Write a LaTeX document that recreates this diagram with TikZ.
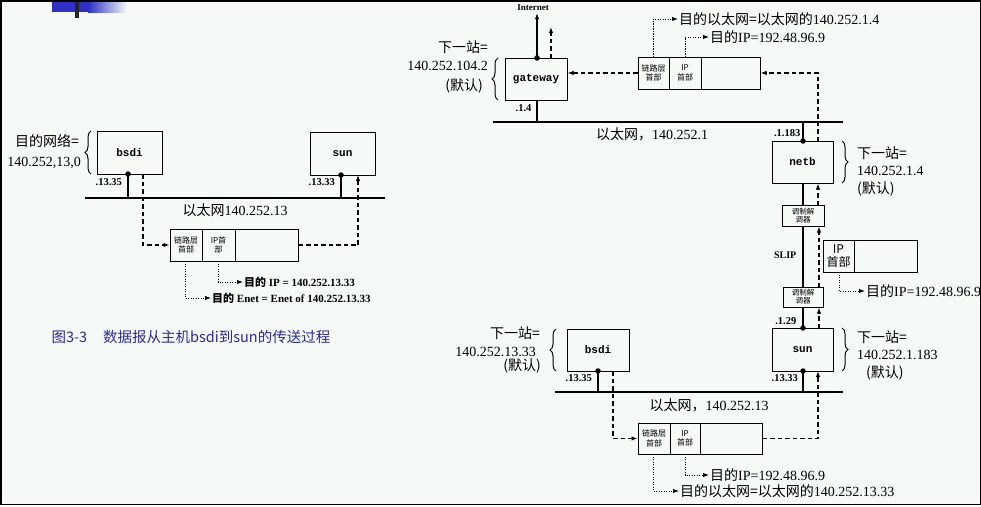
\documentclass[tikz,border=0pt]{standalone}
\usepackage{fontspec}
\setmainfont{Liberation Serif}
\setmonofont{Liberation Mono}
\newfontfamily\cjk{Noto Sans CJK SC}
\usetikzlibrary{arrows.meta,decorations.pathreplacing}
\definecolor{bg}{HTML}{F5FAF7}
\definecolor{capblue}{HTML}{2A2AA0}
\definecolor{barblue}{HTML}{3030C8}
\newcommand{\zh}[1]{{\cjk #1}}
\newcommand{\fsz}[2]{\fontsize{#1}{#2}\selectfont}
\begin{document}
\begin{tikzpicture}[x=1pt,y=-1pt,
  host/.style={draw, line width=1pt, inner sep=0pt, font=\fsz{11}{13}\ttfamily\bfseries},
  cell/.style={draw, line width=1pt, inner sep=0pt, align=center, font=\cjk\fsz{8}{9.5}},
  modem/.style={draw, line width=1pt, inner sep=0pt, align=center, font=\cjk\fsz{7.5}{8}},
  lbl/.style={font=\fsz{14}{16}, inner sep=1pt},
  addr/.style={font=\fsz{10.5}{12}\bfseries, inner sep=0.5pt},
  dsh/.style={line width=1.2pt, dash pattern=on 4.5pt off 3pt},
  dtt/.style={line width=1pt, dash pattern=on 1.2pt off 1.3pt},
  arrowhd/.style={-{Latex[length=6pt,width=4.5pt]}},
  enet/.style={line width=2.8pt},
  wire/.style={line width=1.1pt},
  dotn/.style={circle, fill, inner sep=0pt, minimum size=5.5pt},
  brc/.style={decorate, decoration={brace, amplitude=6pt}, line width=1pt}
]
\useasboundingbox (0,0) rectangle (981,506);
\fill[bg] (0,0) rectangle (981,506);
% top-left slide bar
\fill[barblue] (52,0) rectangle (88,12);
\shade[left color=barblue, right color=bg] (88,0) rectangle (127,12);
\fill[black!85] (75,0) rectangle (79,18);
\draw[line width=1.5pt] (0.75,0.75) rectangle (980.25,504.5);

% ================= LEFT DIAGRAM =================
\node[host, minimum width=65pt, minimum height=43pt] (bsdiL) at (129.5,152.5) {bsdi};
\node[host, minimum width=65pt, minimum height=43pt] (sunL) at (342.5,153.5) {sun};
\coordinate (eL1) at (85,198); \coordinate (eL2) at (385,198);
\draw[enet] (eL1) -- (eL2);
\node[dotn] (dbL) at (128,174) {};
\draw[wire] (dbL.center) -- (dbL |- eL1);
\node[dotn] (dsL) at (341,175) {};
\draw[wire] (dsL.center) -- (dsL |- eL1);
\node[addr, anchor=west] (aL1) at (95,182) {.13.35};
\node[addr, anchor=west] (aL2) at (308,182) {.13.33};
\node[lbl] (netL) at (235,210) {\zh{以太网}140.252.13};
\draw[brc] (91,174) -- (91,131);
\node[lbl, anchor=east] (gL1) at (80,141) {\zh{目的网络=}};
\node[lbl, anchor=east] (gL2) at (82,163) {140.252,13,0};

\node[cell, minimum width=32pt, minimum height=32pt] (pL1) at (186,245) {链路层\\首部};
\node[cell, minimum width=33pt, minimum height=32pt] (pL2) at (218.5,245) {IP首\\部};
\node[cell, minimum width=63pt, minimum height=32pt] (pL3) at (266.5,245) {};
\coordinate (bLd) at (143,174);
\draw[dsh, arrowhd] (bLd) |- (pL1.west);
\coordinate (sLd) at (358,175);
\draw[dsh, arrowhd] (pL3.east) -| (sLd);

\node[anchor=west, font=\fsz{11}{13}\bfseries, inner sep=1pt] (tLip) at (243,282) {\zh{目的} IP = 140.252.13.33};
\node[anchor=west, font=\fsz{11}{13}\bfseries, inner sep=1pt] (tLen) at (211,298) {\zh{目的} Enet = Enet of 140.252.13.33};
\coordinate (pL2b) at (218,261); \draw[dtt, arrowhd] (pL2b) |- (tLip.west);
\coordinate (pL1b) at (185,261); \draw[dtt, arrowhd] (pL1b) |- (tLen.west);

\node[anchor=west, text=capblue, font=\cjk\fsz{14.5}{16}] (cap) at (48,337) {图3-3\hspace{1.1em}数据报从主机bsdi到sun的传送过程};

% ================= RIGHT DIAGRAM =================
\node[host, minimum width=62pt, minimum height=42pt] (gw) at (536,79) {gateway};
\node[dotn] (dgw) at (537,58) {};
\node[font=\fsz{9}{10}\bfseries, inner sep=0pt] (inetT) at (533,8) {Internet};
\draw[wire, arrowhd, shorten >=2pt] (dgw.center) -- (dgw |- inetT.south);
\coordinate (gwd) at (551,58); \coordinate (gwd2) at (551,27);
\draw[dsh, arrowhd] (gwd) -- (gwd2);
\coordinate (eT1) at (493,122); \coordinate (eT2) at (843,122);
\draw[enet] (eT1) -- (eT2);
\coordinate (gwb) at (537,100);
\draw[wire] (gwb) -- (gwb |- eT1);
\node[addr, anchor=west] (a14) at (515,108) {.1.4};
\node[lbl] (netT) at (652,134) {\zh{以太网，}140.252.1};
\node[addr, anchor=east] (a1183) at (801,133) {.1.183};
\draw[brc] (498,100) -- (498,58);
\node[lbl, anchor=east] (gw1) at (489,47) {\zh{下一站=}};
\node[lbl, anchor=east] (gw2) at (489,66) {140.252.104.2};
\node[lbl, anchor=east] (gw3) at (484,86) {\zh{(默认)}};

\node[cell, minimum width=31pt, minimum height=32pt] (pT1) at (653.5,73) {链路层\\首部};
\node[cell, minimum width=32pt, minimum height=32pt] (pT2) at (685,73) {IP\\首部};
\node[cell, minimum width=59pt, minimum height=32pt] (pT3) at (730.5,73) {};
\draw[dsh, arrowhd] (pT1.west) -- (pT1.west -| gw.east);
\node[lbl, anchor=west] (tT1) at (678,19) {\zh{目的以太网=以太网的}140.252.1.4};
\node[lbl, anchor=west] (tT2) at (709,37) {\zh{目的}IP=192.48.96.9};
\coordinate (pT1t) at (653,57); \draw[dtt, arrowhd] (pT1t) |- (tT1.west);
\coordinate (pT2t) at (685,57); \draw[dtt, arrowhd] (pT2t) |- (tT2.west);

\node[host, minimum width=61pt, minimum height=42pt] (netb) at (802.5,162) {netb};
\node[dotn] (dnb) at (803,141) {};
\draw[wire] (dnb.center) -- (dnb |- eT1);
\coordinate (nbd) at (818,141);
\draw[dsh, arrowhd] (nbd) |- (pT3.east);
\draw[brc] (842,141) -- (842,183);
\node[lbl, anchor=west] (nb1) at (856,153) {\zh{下一站=}};
\node[lbl, anchor=west] (nb2) at (856,171) {140.252.1.4};
\node[lbl, anchor=west] (nb3) at (856,189) {\zh{(默认)}};

\node[modem, minimum width=42pt, minimum height=21pt] (m1) at (803,215.5) {调制解\\调器};
\node[modem, minimum width=40pt, minimum height=20pt] (m2) at (803,297) {调制解\\调器};
\draw[wire] (m1.north) -- (m1.north |- netb.south);
\draw[wire] (m1.south) -- (m2.north);
\coordinate (m1t) at (818,205); \draw[dsh, arrowhd] (m1t) -- (m1t |- netb.south);
\coordinate (m2t) at (819,287); \draw[dsh, arrowhd] (m2t) -- (m2t |- m1.south);
\node[font=\fsz{10}{12}\bfseries, anchor=east, inner sep=0.5pt] (slip) at (797,255) {SLIP};

\node[cell, font=\cjk\fsz{12}{12.5}, minimum width=31pt, minimum height=32pt] (pM1) at (838.5,256) {IP\\首部};
\node[cell, minimum width=63pt, minimum height=32pt] (pM2) at (885.5,256) {};
\node[lbl, anchor=west] (tM) at (865,291) {\zh{目的}IP=192.48.96.9};
\coordinate (pM1b) at (839,272); \draw[dtt, arrowhd] (pM1b) |- (tM.west);

\node[host, minimum width=61pt, minimum height=43pt] (sunR) at (802.5,349.5) {sun};
\node[dotn] (dsT) at (803,328) {};
\draw[wire] (dsT.center) -- (dsT |- m2.south);
\coordinate (sRt) at (819,328); \draw[dsh, arrowhd] (sRt) -- (sRt |- m2.south);
\node[addr, anchor=east] (a129) at (797,321) {.1.29};
\draw[brc] (842,328) -- (842,371);
\node[lbl, anchor=west] (sr1) at (856,337) {\zh{下一站=}};
\node[lbl, anchor=west] (sr2) at (856,355) {140.252.1.183};
\node[lbl, anchor=west] (sr3) at (865,373) {\zh{(默认)}};

\coordinate (eB1) at (555,392); \coordinate (eB2) at (843,392);
\draw[enet] (eB1) -- (eB2);
\node[dotn] (dsB) at (803,371) {};
\draw[wire] (dsB.center) -- (dsB |- eB1);
\node[addr, anchor=west] (aR33) at (771,378) {.13.33};

\node[host, minimum width=62pt, minimum height=42pt] (bsdiR) at (598,350) {bsdi};
\node[dotn] (dbR) at (598,371) {};
\draw[wire] (dbR.center) -- (dbR |- eB1);
\node[addr, anchor=west] (aR35) at (565,378) {.13.35};
\draw[brc] (556,371) -- (556,329);
\node[lbl, anchor=east] (br1) at (541,333) {\zh{下一站=}};
\node[lbl, anchor=east] (br2) at (537,352) {140.252.13.33};
\node[lbl, anchor=east] (br3) at (542,366) {\zh{(默认)}};
\node[lbl] (netB) at (709,405) {\zh{以太网，}140.252.13};

\node[cell, minimum width=32pt, minimum height=31pt] (pB1) at (654,438.5) {链路层\\首部};
\node[cell, minimum width=30pt, minimum height=31pt] (pB2) at (685,438.5) {IP\\首部};
\node[cell, minimum width=62pt, minimum height=31pt] (pB3) at (731,438.5) {};
\coordinate (bRd) at (613,371); \draw[dsh, arrowhd] (bRd) |- (pB1.west);
\coordinate (sRb) at (818,371); \draw[dsh, arrowhd] (pB3.east) -| (sRb);
\node[lbl, anchor=west] (tB2) at (709,475) {\zh{目的}IP=192.48.96.9};
\node[lbl, anchor=west] (tB1) at (679,491) {\zh{目的以太网=以太网的}140.252.13.33};
\coordinate (pB2b) at (685,454); \draw[dtt, arrowhd] (pB2b) |- (tB2.west);
\coordinate (pB1b) at (653,454); \draw[dtt, arrowhd] (pB1b) |- (tB1.west);
\end{tikzpicture}
\end{document}
